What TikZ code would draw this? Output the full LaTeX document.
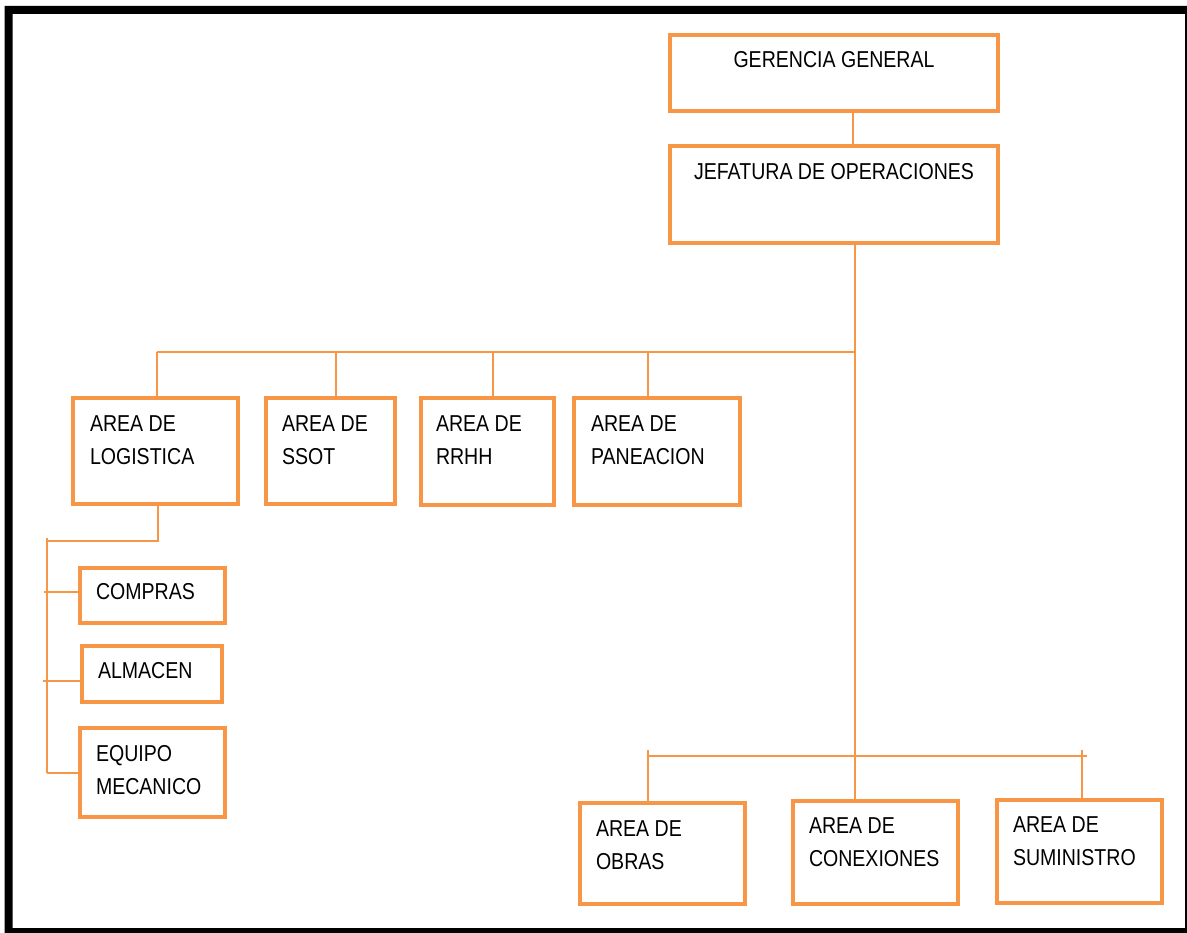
\documentclass[tikz,border=0pt]{standalone}
\usepackage{fontspec}
\setmainfont{Liberation Sans}[FakeStretch=0.85]
\usetikzlibrary{calc}
\definecolor{org}{RGB}{247,150,70}
\begin{document}
\begin{tikzpicture}[x=1pt,y=-1pt,
  box/.style={draw=org, line width=4pt, inner sep=0pt, outer sep=0pt, anchor=north west},
  txt/.style={inner sep=0pt, outer sep=0pt, anchor=north west, align=left, text=black,
    font=\fontsize{23}{33}\selectfont},
  conn/.style={draw=org, line width=2pt}]
\useasboundingbox (0,0) rectangle (1187,933);
\fill[white] (0,0) rectangle (1187,933);
% frame
\fill[black, even odd rule] (4.5,6) rectangle (1187,933) (12.5,14) rectangle (1185,928);

% boxes
\node[box, minimum width=328, minimum height=76]  (ger)  at (670,35)  {};
\node[box, minimum width=328, minimum height=97]  (jef)  at (670,146) {};
\node[box, minimum width=165, minimum height=106] (log)  at (73,398)  {};
\node[box, minimum width=129, minimum height=106] (ssot) at (266,398) {};
\node[box, minimum width=133, minimum height=107] (rrhh) at (421,398) {};
\node[box, minimum width=166, minimum height=107] (pan)  at (574,398) {};
\node[box, minimum width=145, minimum height=55]  (com)  at (80,568)  {};
\node[box, minimum width=140, minimum height=56]  (alm)  at (82,646)  {};
\node[box, minimum width=145, minimum height=89]  (equ)  at (80,728)  {};
\node[box, minimum width=165, minimum height=101] (obr)  at (580,803) {};
\node[box, minimum width=165, minimum height=103] (con)  at (793,801) {};
\node[box, minimum width=165, minimum height=103] (sum)  at (997,800) {};

% texts
\node[txt, anchor=north] (tger) at ($(ger.north)+(0,16)$) {GERENCIA GENERAL};
\node[txt, anchor=north] (tjef) at ($(jef.north)+(0,17)$) {JEFATURA DE OPERACIONES};
\node[txt] (tlog)  at ($(log.north west)+(17,18)$)  {AREA DE\\LOGISTICA};
\node[txt] (tssot) at ($(ssot.north west)+(16,18)$) {AREA DE\\SSOT};
\node[txt] (trrhh) at ($(rrhh.north west)+(15,18)$) {AREA DE\\RRHH};
\node[txt] (tpan)  at ($(pan.north west)+(17,18)$)  {AREA DE\\PANEACION};
\node[txt] (tcom)  at ($(com.north west)+(16,15)$)  {COMPRAS};
\node[txt] (talm)  at ($(alm.north west)+(16,16)$)  {ALMACEN};
\node[txt] (tequ)  at ($(equ.north west)+(16,17.5)$) {EQUIPO\\MECANICO};
\node[txt] (tobr)  at ($(obr.north west)+(16,18)$)  {AREA DE\\OBRAS};
\node[txt] (tcon)  at ($(con.north west)+(16,17)$)  {AREA DE\\CONEXIONES};
\node[txt] (tsum)  at ($(sum.north west)+(16,17)$)  {AREA DE\\SUMINISTRO};

% coordinates of junctions
\coordinate (b1)   at (855,352);
\coordinate (dlog) at (157,352);
\coordinate (dssot) at (336,352);
\coordinate (drrhh) at (493,352);
\coordinate (dpan) at (648,352);
\coordinate (b2l)  at (648,756);
\coordinate (b2r)  at (1087,756);
\coordinate (tobrk) at (648,750);
\coordinate (tsumk) at (1082,750);
\coordinate (sv)   at (47,541);
\coordinate (svt)  at (47,538);
\coordinate (svb)  at (47,773);
\coordinate (tc)   at (44,592);
\coordinate (ta)   at (43,681);

% connectors
\draw[conn] ([xshift=19pt]ger.south) -- ([xshift=19pt]jef.north);
\draw[conn] ([xshift=21pt]jef.south) -- ([xshift=21pt]jef.south |- con.north);
\draw[conn] (dlog) -- (b1);
\draw[conn] (dlog) -- (dlog |- log.north);
\draw[conn] (dssot) -- (dssot |- ssot.north);
\draw[conn] (drrhh) -- (drrhh |- rrhh.north);
\draw[conn] (dpan) -- (dpan |- pan.north);
\draw[conn] (b2l) -- (b2r);
\draw[conn] (tobrk) -- (tobrk |- obr.north);
\draw[conn] (tsumk) -- (tsumk |- sum.north);
\draw[conn] ([xshift=2.5pt]log.south) |- (sv);
\draw[conn] (svt) -- (svb);
\draw[conn] (tc) -- (tc -| com.west);
\draw[conn] (ta) -- (ta -| alm.west);
\draw[conn] (svb) -- (svb -| equ.west);
\end{tikzpicture}
\end{document}
